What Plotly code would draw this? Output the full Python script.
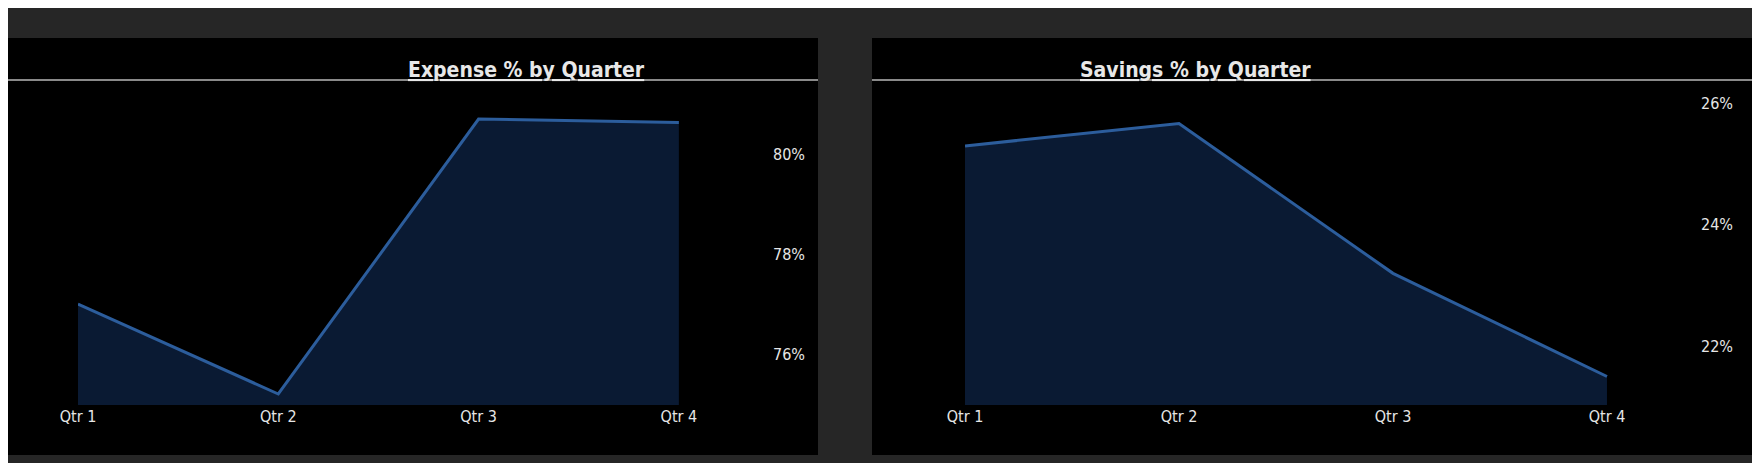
import plotly.graph_objects as go

quarters = ["Qtr 1", "Qtr 2", "Qtr 3", "Qtr 4"]
expense_pct = [77.0, 75.2, 80.7, 80.63]
savings_pct = [25.3, 25.67, 23.2, 21.5]
expense_ticks = [76, 78, 80]
savings_ticks = [22, 24, 26]

W, H = 1760, 463
LINE = "#2c5d9c"
FILL = "#0a1a33"


def px(x):
    return x / W


def py(y):
    return 1 - y / H


fig = go.Figure()
fig.add_trace(go.Scatter(x=quarters, y=expense_pct, mode="lines", fill="tozeroy",
                         line=dict(color=LINE, width=3), fillcolor=FILL,
                         xaxis="x", yaxis="y", hoverinfo="x+y"))
fig.add_trace(go.Scatter(x=quarters, y=savings_pct, mode="lines", fill="tozeroy",
                         line=dict(color=LINE, width=3), fillcolor=FILL,
                         xaxis="x2", yaxis="y2", hoverinfo="x+y"))

tick_font = dict(family="DejaVu Sans Condensed", size=16, color="#e6e6e6")
xcommon = dict(showgrid=False, zeroline=False, showline=False, tickfont=tick_font,
               ticks="", fixedrange=True, automargin=False)
ycommon = dict(showgrid=False, zeroline=False, showline=False, tickfont=tick_font,
               side="right", ticklabelstandoff=4, fixedrange=True, automargin=False)

# panels and title separators
shapes = []
for x0, x1 in [(0, 810), (864, 1745)]:
    shapes.append(dict(type="rect", xref="paper", yref="paper", x0=px(x0), x1=px(x1),
                       y0=py(447), y1=py(30), fillcolor="#000000", line_width=0, layer="below"))
    shapes.append(dict(type="line", xref="paper", yref="paper", x0=px(x0), x1=px(x1),
                       y0=py(72), y1=py(72), line=dict(color="#8a8a8a", width=2)))

title_font = dict(family="DejaVu Sans Condensed", size=21, color="#e8e8e8")
annotations = [
    dict(text="<b><u>Expense % by Quarter</u></b>", x=px(398), y=py(48), xref="paper",
         yref="paper", showarrow=False, font=title_font),
    dict(text="<b><u>Savings % by Quarter</u></b>", x=px(1305), y=py(48), xref="paper",
         yref="paper", showarrow=False, font=title_font),
]

fig.update_layout(
    width=W, height=H,
    autosize=False,
    margin=dict(l=0, r=0, t=0, b=0, pad=0),
    paper_bgcolor="#262626", plot_bgcolor="rgba(0,0,0,0)",
    showlegend=False,
    shapes=shapes, annotations=annotations,
    xaxis=dict(xcommon, domain=[px(70), px(760)], range=[0, 3.445], anchor="y"),
    yaxis=dict(ycommon, domain=[py(397), py(100)], range=[74.98, 80.92],
               tickvals=expense_ticks, ticktext=[f"{v}%" for v in expense_ticks], anchor="x"),
    xaxis2=dict(xcommon, domain=[px(957), px(1688)], range=[0, 3.416], anchor="y2"),
    yaxis2=dict(ycommon, domain=[py(397), py(90)], range=[21.03, 26.09],
                tickvals=savings_ticks, ticktext=[f"{v}%" for v in savings_ticks], anchor="x2"),
)

fig.write_html("out.html")
